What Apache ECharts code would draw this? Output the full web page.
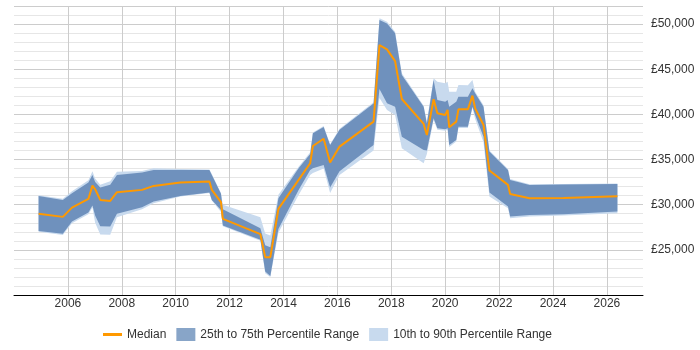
<!DOCTYPE html>
<html>
<head>
<meta charset="utf-8">
<script src="https://cdn.jsdelivr.net/npm/echarts@6/dist/echarts.min.js"></script>
<style>
  html, body { margin: 0; padding: 0; background: #fff; }
  #chart { width: 700px; height: 350px; }
</style>
</head>
<body>
<div id="chart"></div>
<script type="application/javascript">
// dates as decimal years, salaries in GBP
const years = [2004.91, 2005.81, 2006.15, 2006.76, 2006.91, 2007.01, 2007.2, 2007.57, 2007.82, 2008.75,
  2009.18, 2010.17, 2011.25, 2011.34, 2011.68, 2011.75, 2013.14, 2013.32, 2013.51, 2013.81,
  2014.56, 2014.99, 2015.09, 2015.49, 2015.73, 2016.08, 2017.34, 2017.56, 2017.84, 2018.14,
  2018.39, 2019.2, 2019.32, 2019.57, 2019.71, 2020.0, 2020.09, 2020.15, 2020.41, 2020.49,
  2020.84, 2021.01, 2021.11, 2021.42, 2021.64, 2022.33, 2022.41, 2023.13, 2024.39, 2026.39];
const median = [29000, 28650, 29680, 30640, 32110, 31710, 30530, 30420, 31380, 31640,
  32080, 32450, 32560, 31640, 30280, 28430, 26740, 24190, 24190, 29535,
  32740, 34590, 36500, 37300, 34660, 36430, 39200, 47680, 47200, 45900,
  41700, 38940, 37720, 41670, 40120, 39930, 40490, 38570, 39200, 40560,
  40560, 42070, 40670, 38830, 33780, 32190, 31190, 30720, 30750, 30940];
const p25 = [27100, 26770, 28130, 29130, 29900, 28800, 27600, 27580, 29000, 29720,
  30340, 30970, 31340, 30530, 29400, 27700, 26110, 22600, 22100, 27300,
  31640, 33850, 34030, 34400, 31900, 33700, 36600, 42800, 41230, 40850,
  37530, 36060, 36000, 39570, 38460, 38350, 38460, 36610, 37170, 38640,
  38640, 40850, 39930, 37530, 31340, 29790, 28680, 28870, 28950, 29240];
const p75 = [30970, 30530, 31270, 32450, 33300, 32500, 31900, 32200, 33300, 33560,
  33850, 33850, 33850, 33300, 31200, 29500, 27400, 25500, 25300, 30700,
  34030, 35600, 37900, 38600, 36600, 38300, 41200, 50440, 50070, 48970,
  44360, 40850, 39000, 43800, 41600, 41410, 41600, 40850, 41410, 41960,
  41960, 42890, 42330, 40850, 35880, 33850, 32740, 32190, 32230, 32300];
const p10 = [27000, 26650, 27950, 28950, 29700, 28000, 26700, 26660, 28600, 29500,
  30160, 30900, 31300, 30450, 29200, 27600, 26000, 22400, 22000, 26900,
  31080, 33300, 33500, 34000, 31300, 33300, 36000, 41800, 40490, 39930,
  36240, 34590, 35600, 39380, 38300, 38200, 38300, 36400, 37000, 38500,
  38500, 40700, 39500, 36900, 30900, 29600, 28500, 28690, 28800, 29060];
const p90 = [31050, 30650, 31500, 32700, 33700, 32900, 32200, 32600, 33650, 33740,
  34030, 33950, 33900, 33400, 31300, 30000, 28620, 26800, 26600, 31100,
  34200, 35800, 38000, 38700, 36700, 38400, 41350, 50630, 50250, 49150,
  44540, 40950, 39200, 43990, 43620, 43440, 43620, 42510, 42510, 43250,
  43220, 43800, 42500, 41000, 36000, 33950, 32850, 32250, 32300, 32350];

const xMin = 2004;
const xMax = 2027.34;

const medianColor = '#ff9900';
const innerColor = '#6f91bd';
const outerColor = '#c8daee';

// decimal year -> timestamp (for the hidden time axis the series sit on)
function toTs(y) {
  const yr = Math.floor(y);
  const start = Date.UTC(yr, 0, 1);
  const end = Date.UTC(yr + 1, 0, 1);
  return start + (y - yr) * (end - start);
}

const pairs = (vals) => years.map((y, i) => [toTs(y), vals[i]]);
const diff = (hi, lo) => years.map((y, i) => [toTs(y), hi[i] - lo[i]]);

function bandBase(stack, vals) {
  return {
    type: 'line', xAxisIndex: 1, stack, data: pairs(vals), symbol: 'none', silent: true,
    lineStyle: { width: 0, opacity: 0 }
  };
}
function bandFill(name, stack, hi, lo, color) {
  return {
    name, type: 'line', xAxisIndex: 1, stack, data: diff(hi, lo), symbol: 'none', silent: true,
    color, lineStyle: { width: 0, opacity: 0 },
    areaStyle: { color, opacity: 1 }
  };
}

const chart = echarts.init(document.getElementById('chart'));
chart.setOption({
  animation: false,
  textStyle: { fontFamily: 'Liberation Sans, Arial, sans-serif' },
  grid: { left: 14, right: 57, top: 6, bottom: 55 },
  xAxis: [{
    type: 'value', min: xMin, max: xMax, interval: 2,
    axisLine: { lineStyle: { color: '#000', width: 1 } },
    axisTick: { show: false },
    axisLabel: {
      color: '#333', fontSize: 12, margin: 3,
      formatter: v => (Number.isInteger(v) && v > xMin) ? String(v) : ''
    },
    splitLine: { show: true, showMinLine: false, showMaxLine: false, lineStyle: { color: '#cccccc' } }
  }, {
    type: 'time', show: false, min: toTs(xMin), max: toTs(xMax)
  }],
  yAxis: [{
    type: 'value', position: 'right', min: 20000, max: 52000, interval: 5000, z: 1,
    axisLine: { show: false },
    axisTick: { show: false },
    axisLabel: {
      color: '#333', fontSize: 12, margin: 8,
      formatter: v => (v % 5000 === 0 && v > 20000) ? '£' + v.toLocaleString('en-GB') : ''
    },
    splitLine: { showMinLine: false, lineStyle: { color: '#cccccc' } }
  }, {
    // minor grid every 1000
    type: 'value', position: 'right', min: 20000, max: 52000, interval: 1000, z: 0,
    axisLine: { show: false },
    axisTick: { show: false },
    axisLabel: { show: false },
    splitLine: { showMinLine: false, lineStyle: { color: '#e6e6e6' } }
  }],
  legend: {
    left: 98, top: 323, itemWidth: 19, itemHeight: 13, itemGap: 10,
    textStyle: { color: '#333', fontSize: 12 },
    data: [
      { name: 'Median', icon: 'path://M0,5 L19,5 L19,8 L0,8 Z', itemStyle: { color: medianColor } },
      { name: '25th to 75th Percentile Range', icon: 'rect', itemStyle: { color: '#88a5c8' } },
      { name: '10th to 90th Percentile Range', icon: 'rect', itemStyle: { color: outerColor } }
    ]
  },
  series: [
    bandBase('outer', p10),
    bandFill('10th to 90th Percentile Range', 'outer', p90, p10, outerColor),
    bandBase('inner', p25),
    bandFill('25th to 75th Percentile Range', 'inner', p75, p25, innerColor),
    {
      name: 'Median', type: 'line', xAxisIndex: 1, data: pairs(median), symbol: 'none', silent: true,
      color: medianColor, lineStyle: { color: medianColor, width: 2 }
    }
  ]
});
</script>
</body>
</html>
